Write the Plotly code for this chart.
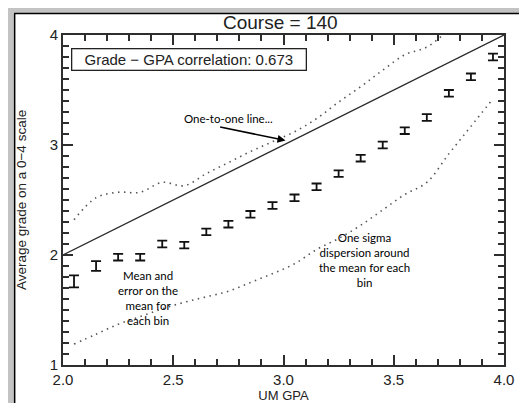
import plotly.graph_objects as go

# ---- data ----
gpa_bins = [2.05, 2.15, 2.25, 2.35, 2.45, 2.55, 2.65, 2.75, 2.85, 2.95,
            3.05, 3.15, 3.25, 3.35, 3.45, 3.55, 3.65, 3.75, 3.85, 3.95]
mean_grade = [1.76, 1.90, 1.98, 1.98, 2.10, 2.09, 2.21, 2.28, 2.37, 2.45,
              2.52, 2.62, 2.74, 2.88, 3.00, 3.13, 3.25, 3.47, 3.62, 3.80]
mean_err = [0.055, 0.045, 0.03, 0.03, 0.03, 0.03, 0.03, 0.03, 0.03, 0.03,
            0.03, 0.03, 0.03, 0.03, 0.03, 0.03, 0.03, 0.03, 0.03, 0.03]
sigma_upper = [2.32, 2.52, 2.57, 2.57, 2.66, 2.63, 2.74, 2.84, 2.94, 3.03,
               3.12, 3.24, 3.39, 3.53, 3.68, 3.82, 3.89, 4.05, 4.25, 4.40]
sigma_lower = [1.19, 1.28, 1.37, 1.44, 1.51, 1.57, 1.62, 1.67, 1.75, 1.83,
               1.92, 2.05, 2.15, 2.27, 2.41, 2.55, 2.66, 2.92, 3.17, 3.42]
one_to_one = [2.0, 4.0]
x_major_ticks = [2.0, 2.5, 3.0, 3.5, 4.0]
x_major_labels = ["2.0", "2.5", "3.0", "3.5", "4.0"]
y_major_ticks = [1, 2, 3, 4]
y_major_labels = ["1", "2", "3", "4"]
x_range = [2.0, 4.0]
y_range = [1.0, 4.0]
minor_step = 0.1
title_text = "Course = 140"
corr_text = "Grade \u2212 GPA correlation: 0.673"

W, H = 527, 403
L, R, T, B = 54, 31, 27, 38
pw, ph = W - L - R, H - T - B

AX = "#2e2e2e"
IDL_FONT = "Liberation Sans"
NOTE_FONT = "Lato"

fig = go.Figure()

fig.add_trace(go.Scatter(x=one_to_one, y=one_to_one, mode="lines",
                         line=dict(color="#2a2a2a", width=1.3), showlegend=False))
fig.add_trace(go.Scatter(x=gpa_bins, y=sigma_upper, mode="lines",
                         line=dict(color="#555", width=1.6, dash="1.5px,4.5px", shape="spline"),
                         showlegend=False))
fig.add_trace(go.Scatter(x=gpa_bins, y=sigma_lower, mode="lines",
                         line=dict(color="#555", width=1.6, dash="1.5px,4.5px", shape="spline"),
                         showlegend=False))
fig.add_trace(go.Scatter(x=gpa_bins, y=mean_grade, mode="markers",
                         marker=dict(size=1, color="rgba(0,0,0,0)"),
                         error_y=dict(type="data", array=mean_err, visible=True,
                                      color="#111", thickness=1.8, width=5),
                         showlegend=False))
# invisible trace to activate the mirrored top/right axes
fig.add_trace(go.Scatter(x=x_range, y=y_range, xaxis="x2", yaxis="y2",
                         mode="markers", marker=dict(color="rgba(0,0,0,0)"),
                         showlegend=False, hoverinfo="skip"))

minor = dict(dtick=minor_step, ticks="inside", ticklen=6, tickcolor=AX,
             tickwidth=2, showgrid=False)
base = dict(showgrid=False, zeroline=False, ticks="inside", tickcolor=AX,
            tickwidth=2, ticklen=10, tickmode="array", showline=True,
            linecolor=AX, linewidth=2, minor=minor)

fig.update_layout(
    width=W, height=H,
    margin=dict(l=L, r=R, t=T, b=B),
    paper_bgcolor="white", plot_bgcolor="white",
    font=dict(family=IDL_FONT, color="#222", size=14),
    xaxis=dict(range=x_range, tickvals=x_major_ticks, ticktext=x_major_labels,
               tickfont=dict(size=15),
               title=dict(text="UM GPA", font=dict(size=13), standoff=2),
               side="bottom", **base),
    yaxis=dict(range=y_range, tickvals=y_major_ticks, ticktext=y_major_labels,
               tickfont=dict(size=15),
               title=dict(text="Average grade on a 0\u22124 scale", font=dict(size=13.5),
                          standoff=20),
               side="left", **base),
    xaxis2=dict(range=x_range, tickvals=x_major_ticks, overlaying="x", side="top",
                showticklabels=False, **base),
    yaxis2=dict(range=y_range, tickvals=y_major_ticks, overlaying="y", side="right",
                showticklabels=False, **base),
)

def px_x(p):
    return (p - L) / pw

def px_y(p):
    return 1 - (p - T) / ph

def dx(p):
    return x_range[0] + (p - L) / pw * (x_range[1] - x_range[0])

def dy(p):
    return y_range[1] - (p - T) / ph * (y_range[1] - y_range[0])

shapes = [
    # grey slide background strips and black panel border
    dict(type="rect", xref="paper", yref="paper", x0=px_x(-2), x1=px_x(W + 2),
         y0=px_y(4.5), y1=px_y(-2), fillcolor="#c3c3c3", line=dict(width=0), layer="below"),
    dict(type="rect", xref="paper", yref="paper", x0=px_x(-2), x1=px_x(4.5),
         y0=px_y(H + 2), y1=px_y(-2), fillcolor="#c3c3c3", line=dict(width=0), layer="below"),
    dict(type="line", xref="paper", yref="paper", x0=px_x(5), x1=px_x(W + 2),
         y0=px_y(5), y1=px_y(5), line=dict(color="black", width=1.6), layer="below"),
    dict(type="line", xref="paper", yref="paper", x0=px_x(5.5), x1=px_x(5.5),
         y0=px_y(H + 2), y1=px_y(5), line=dict(color="black", width=1.6), layer="below"),
]

annotations = [
    dict(text=title_text, xref="paper", yref="paper", x=px_x(272), y=px_y(14),
         showarrow=False, font=dict(size=19, family=IDL_FONT, color="#222"),
         xanchor="center", yanchor="middle"),
    dict(text=corr_text, xref="paper", yref="paper", x=px_x(62), y=px_y(40),
         showarrow=False, font=dict(size=15, family=IDL_FONT, color="#222"),
         xanchor="left", yanchor="top", width=233, height=20, align="center",
         valign="middle", bordercolor="#222", borderwidth=1.3, borderpad=0,
         bgcolor="white"),
    dict(text="One-to-one line...", xref="paper", yref="paper", x=px_x(220), y=px_y(113),
         showarrow=False, font=dict(size=11.5, family=NOTE_FONT, color="black"),
         xanchor="center", yanchor="middle"),
    dict(text="", xref="x", yref="y", x=dx(277), y=dy(135), ax=dx(210), ay=dy(121),
         axref="x", ayref="y", showarrow=True, arrowhead=2, arrowsize=1,
         arrowwidth=1.6, arrowcolor="black"),
    dict(text="One sigma<br>dispersion around<br>the mean for each<br>bin",
         xref="paper", yref="paper", x=px_x(356), y=px_y(257), showarrow=False,
         font=dict(size=11.5, family=NOTE_FONT, color="black"), align="center",
         xanchor="center", yanchor="middle"),
    dict(text="Mean and<br>error on the<br>mean for<br>each bin",
         xref="paper", yref="paper", x=px_x(139), y=px_y(296), showarrow=False,
         font=dict(size=11.5, family=NOTE_FONT, color="black"), align="center",
         xanchor="center", yanchor="middle"),
]

fig.update_layout(shapes=shapes, annotations=annotations)

fig.write_html("out.html")
